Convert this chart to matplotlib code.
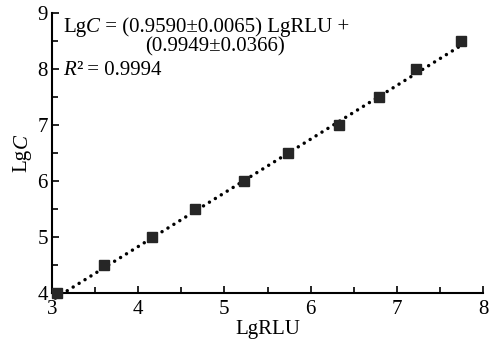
import numpy as np
import matplotlib
matplotlib.use("Agg")
import matplotlib.pyplot as plt
from matplotlib.ticker import MultipleLocator

# data
lg_rlu = [3.06, 3.60, 4.16, 4.66, 5.23, 5.74, 6.33, 6.79, 7.22, 7.74]
lg_c = [4.0, 4.5, 5.0, 5.5, 6.0, 6.5, 7.0, 7.5, 8.0, 8.5]
err = [0.03, 0.04, 0.03, 0.04, 0.03, 0.03, 0.03, 0.04, 0.03, 0.04]
slope = 0.9590
intercept = 0.9949

plt.rcParams['font.family'] = ['Liberation Serif', 'DejaVu Serif']

fig = plt.figure(figsize=(4.9, 3.44), dpi=100)
ax = fig.add_axes([0.106, 0.148, 0.88, 0.814])

# fitted line
xf = np.array([lg_rlu[0] - 0.02, lg_rlu[-1] + 0.02])
ax.plot(xf, slope * xf + intercept, color='black', linestyle=(0, (0.01, 2.0)),
        linewidth=2.5, dash_capstyle='round', zorder=2, clip_on=False)
eb = ax.errorbar(lg_rlu, lg_c, yerr=err, fmt='s', color='#262626', markersize=7.5,
                 ecolor='#262626', elinewidth=1, capsize=3, zorder=3)
for a in eb.get_children():
    a.set_clip_on(False)

ax.set_xlim(3, 8)
ax.set_ylim(4, 9)
ax.xaxis.set_major_locator(MultipleLocator(1))
ax.xaxis.set_minor_locator(MultipleLocator(0.5))
ax.yaxis.set_major_locator(MultipleLocator(1))
ax.yaxis.set_minor_locator(MultipleLocator(0.5))
ax.tick_params(which='both', direction='in', labelsize=15, width=1.2)
ax.tick_params(which='major', length=5)
ax.tick_params(which='minor', length=4)
ax.tick_params(axis='x', pad=5)
ax.tick_params(axis='y', pad=3)
ax.spines['top'].set_visible(False)
ax.spines['right'].set_visible(False)
ax.spines['left'].set_linewidth(1.5)
ax.spines['bottom'].set_linewidth(1.5)

ax.set_xlabel('LgRLU', fontsize=15, labelpad=1)


def put_pieces(x, y, pieces):
    # draw text pieces one after another, each with its own style
    fig.canvas.draw()
    r = fig.canvas.get_renderer()
    px, py = ax.transData.transform((x, y))
    for s, style in pieces:
        t = fig.text(px / fig.dpi / 4.9, py / fig.dpi / 3.44, s, fontsize=15,
                     style=style, va='center', ha='left')
        px += t.get_window_extent(r).width


put_pieces(3.13, 8.75, [('Lg', 'normal'), ('C', 'italic'),
                        (' = (0.9590±0.0065) LgRLU +', 'normal')])
ax.text(4.08, 8.39, '(0.9949±0.0366)', fontsize=15, va='center')
put_pieces(3.13, 7.98, [('R', 'italic'), ('²', 'normal'), (' = 0.9994', 'normal')])

# y label: rotated "Lg" + italic "C"
fig.canvas.draw()
r = fig.canvas.get_renderer()
ylx = 0.045
yc = (0.148 + 0.962) / 2
t1 = fig.text(ylx, yc, 'Lg', fontsize=15, rotation=90, ha='center', va='bottom')
h1 = t1.get_window_extent(r).height / fig.dpi / 3.44
t2 = fig.text(ylx, yc + h1, 'C', fontsize=15, rotation=90, style='italic',
              ha='center', va='bottom')
h2 = t2.get_window_extent(r).height / fig.dpi / 3.44
shift = (h1 + h2) / 2
t1.set_y(yc - shift)
t2.set_y(yc - shift + h1)

fig.savefig('out.png', dpi=100)
